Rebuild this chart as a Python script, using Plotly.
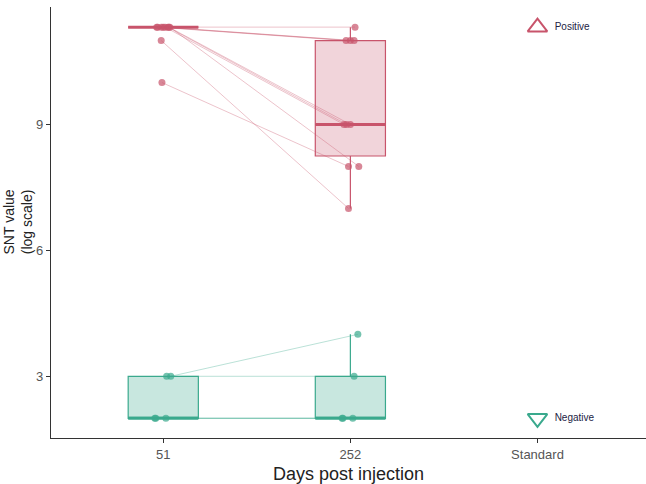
import numpy as np
import plotly.graph_objects as go

# ---- data ----
days = ["51", "252", "Standard"]
y_ticks = [3, 6, 9]

pos_d51 = [10, 11, 11.32, 11.32, 11.32, 11.32, 11.32, 11.32, 11.32, 11.32]
pos_d252 = [8, 7, 11.32, 11, 11, 11, 9, 9, 9, 8]
neg_d51 = [2, 2, 2, 3, 3]
neg_d252 = [2, 2, 2, 3, 4]
standard_pos = 11.32
standard_neg = 2

# horizontal jitter of each point (category units)
pos_jit51 = [-0.007, -0.011, -0.035, -0.03, -0.01, 0.0, 0.01, 0.025, 0.03, 0.035]
pos_jit252 = [-0.01, -0.01, 0.025, -0.023, 0.0, 0.02, -0.034, -0.02, 0.0, 0.045]
neg_jit51 = [-0.045, -0.04, 0.014, 0.018, 0.04]
neg_jit252 = [-0.044, -0.04, 0.013, 0.02, 0.04]

RED = "#C8546B"
GREEN = "#3AA98D"
RED_FILL = "rgba(200,84,107,0.25)"
GREEN_FILL = "rgba(58,169,141,0.28)"
BOX_W = 0.375
NARROW = "Liberation Sans Narrow, Arial Narrow, Liberation Sans"

fig = go.Figure()


def add_group(vals51, vals252, jit51, jit252, color, fill, rgb):
    # pairing lines
    xs, ys = [], []
    for a, b, ja, jb in zip(vals51, vals252, jit51, jit252):
        xs += [0 + ja, 1 + jb, None]
        ys += [a, b, None]
    fig.add_trace(go.Scatter(x=xs, y=ys, mode="lines",
                             line=dict(color=f"rgba({rgb},0.35)", width=1),
                             hoverinfo="skip", showlegend=False))
    for xi, vals in ((0, vals51), (1, vals252)):
        arr = np.array(vals, dtype=float)
        q1, med, q3 = np.percentile(arr, [25, 50, 75])
        if q3 > q1:
            lo, hi = arr.min(), arr.max()
        else:
            lo, hi = q1, q3
        fig.add_trace(go.Box(x=[xi], q1=[q1], median=[med], q3=[q3],
                             lowerfence=[lo], upperfence=[hi],
                             width=BOX_W, whiskerwidth=0,
                             line=dict(color=color, width=1.2),
                             fillcolor=fill, boxpoints=False,
                             hoverinfo="skip", showlegend=False))
        fig.add_trace(go.Scatter(x=[xi - BOX_W / 2, xi + BOX_W / 2], y=[med, med],
                                 mode="lines", line=dict(color=color, width=3),
                                 hoverinfo="skip", showlegend=False))
    fig.add_trace(go.Scatter(x=[j for j in jit51] + [1 + j for j in jit252],
                             y=list(vals51) + list(vals252), mode="markers",
                             marker=dict(color=f"rgba({rgb},0.7)", size=7),
                             hoverinfo="skip", showlegend=False))


add_group(pos_d51, pos_d252, pos_jit51, pos_jit252, RED, RED_FILL, "200,84,107")
add_group(neg_d51, neg_d252, neg_jit51, neg_jit252, GREEN, GREEN_FILL, "58,169,141")

fig.add_trace(go.Scatter(x=[2], y=[standard_pos], mode="markers+text",
                         marker=dict(symbol="triangle-up-open", size=17,
                                     color=RED, line=dict(width=2, color=RED)),
                         text=["  Positive"], textposition="middle right",
                         textfont=dict(size=10, color="#222244", family=NARROW),
                         showlegend=False, hoverinfo="skip"))
fig.add_trace(go.Scatter(x=[2], y=[standard_neg], mode="markers+text",
                         marker=dict(symbol="triangle-down-open", size=17,
                                     color=GREEN, line=dict(width=2, color=GREEN)),
                         text=["  Negative"], textposition="middle right",
                         textfont=dict(size=10, color="#222244", family=NARROW),
                         showlegend=False, hoverinfo="skip"))

fig.add_annotation(text="SNT value<br>(log scale)", textangle=-90,
                   xref="paper", yref="paper", x=0, y=0.5,
                   xanchor="center", yanchor="middle", xshift=-34,
                   showarrow=False, font=dict(size=14, color="#222"))

fig.update_layout(
    width=646, height=484,
    margin=dict(l=51, r=0, t=7, b=46, autoexpand=False),
    plot_bgcolor="white", paper_bgcolor="white",
    boxmode="overlay",
    font=dict(family="Liberation Sans, Arial, sans-serif", color="#222"),
    xaxis=dict(range=[-0.6, 2.58], tickmode="array", tickvals=[0, 1, 2],
               ticktext=days, showgrid=False, zeroline=False,
               showline=True, linecolor="#333", linewidth=1.2,
               ticks="outside", ticklen=4, tickcolor="#333",
               tickfont=dict(size=13, color="#555", family=NARROW),
               title=dict(text="Days post injection", standoff=6,
                          font=dict(size=18, color="#222"))),
    yaxis=dict(range=[1.53, 11.8], tickmode="array", tickvals=y_ticks,
               ticktext=[str(t) for t in y_ticks], showgrid=False, zeroline=False,
               showline=True, linecolor="#333", linewidth=1.2,
               ticks="outside", ticklen=4, tickcolor="#333",
               tickfont=dict(size=13, color="#555", family=NARROW)),
)

fig.write_html("out.html", config={"displayModeBar": False},
               post_script="document.body.style.margin='0px';document.body.style.overflow='hidden';")
